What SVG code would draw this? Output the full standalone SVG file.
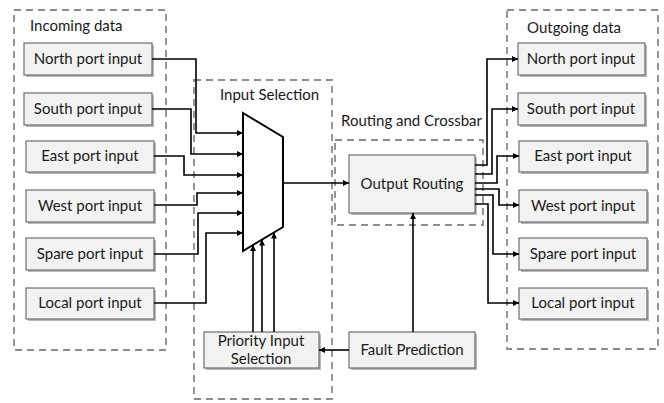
<svg xmlns="http://www.w3.org/2000/svg" width="664" height="403" viewBox="0 0 664 403">
  <style>
    .region { fill: none; stroke: #8c8c8c; stroke-width: 1.8; stroke-dasharray: 7 5; }
    .box { fill: #f2f2f2; stroke: #6e6e6e; stroke-width: 1.2; }
    .shadow { fill: #b8b8b8; }
    .lbl { font-family: Lato, "Liberation Sans", sans-serif; font-size: 15px; fill: #1a1a1a; text-anchor: middle; }
    .title { font-family: Lato, "Liberation Sans", sans-serif; font-size: 15px; fill: #1a1a1a; }
    .wire { fill: none; stroke: #000; stroke-width: 1.6; }
  </style>
  <defs>
    <marker id="arrow" viewBox="0 0 10 10" refX="10" refY="5" markerWidth="6" markerHeight="6" markerUnits="userSpaceOnUse" orient="auto">
      <path d="M0,0 L10,5 L0,10 z" fill="#000"/>
    </marker>
    <marker id="arrowL" viewBox="0 0 10 10" refX="10" refY="5" markerWidth="9" markerHeight="9" markerUnits="userSpaceOnUse" orient="auto">
      <path d="M0,1 L10,5 L0,9 z" fill="#000"/>
    </marker>
  </defs>

  <rect width="664" height="403" fill="#fff"/>

  <!-- region frames -->
  <g id="regions">
    <rect class="region" x="14" y="10" width="152" height="340"/>
    <text class="title" x="30" y="31">Incoming data</text>
    <rect class="region" x="194" y="80" width="138" height="319"/>
    <text class="title" x="220" y="100">Input Selection</text>
    <rect class="region" x="335" y="140" width="148" height="85"/>
    <text class="title" x="341" y="126">Routing and Crossbar</text>
    <rect class="region" x="507" y="10" width="151" height="339"/>
    <text class="title" x="527" y="33">Outgoing data</text>
  </g>

  <!-- incoming ports -->
  <g id="in-north"><rect class="shadow" x="26" y="45" width="128" height="32"/><rect class="box" x="24" y="43" width="128" height="32"/><text class="lbl" x="88" y="64">North port input</text></g>
  <g id="in-south"><rect class="shadow" x="26" y="95" width="128" height="32"/><rect class="box" x="24" y="93" width="128" height="32"/><text class="lbl" x="88" y="114">South port input</text></g>
  <g id="in-east"><rect class="shadow" x="28" y="143" width="128" height="31"/><rect class="box" x="26" y="141" width="128" height="31"/><text class="lbl" x="90" y="161">East port input</text></g>
  <g id="in-west"><rect class="shadow" x="28" y="192" width="128" height="32"/><rect class="box" x="26" y="190" width="128" height="32"/><text class="lbl" x="90" y="211">West port input</text></g>
  <g id="in-spare"><rect class="shadow" x="28" y="240" width="128" height="32"/><rect class="box" x="26" y="238" width="128" height="32"/><text class="lbl" x="90" y="259">Spare port input</text></g>
  <g id="in-local"><rect class="shadow" x="28" y="290" width="128" height="31"/><rect class="box" x="26" y="288" width="128" height="31"/><text class="lbl" x="90" y="308">Local port input</text></g>

  <!-- input multiplexer -->
  <g id="mux">
    <polygon points="243,113 283,137 283,227 243,251" fill="#fff" stroke="#000" stroke-width="2"/>
  </g>

  <g id="priority"><rect class="shadow" x="206" y="334" width="115" height="36"/><rect class="box" x="204" y="332" width="115" height="36"/><text class="lbl" x="261" y="346">Priority Input</text><text class="lbl" x="261" y="364">Selection</text></g>

  <g id="output-routing"><rect class="shadow" x="351" y="157" width="126" height="58"/><rect class="box" x="349" y="155" width="126" height="58"/><text class="lbl" x="412" y="189">Output Routing</text></g>

  <g id="fault"><rect class="shadow" x="351" y="334" width="126" height="36"/><rect class="box" x="349" y="332" width="126" height="36"/><text class="lbl" x="412" y="355">Fault Prediction</text></g>

  <!-- outgoing ports -->
  <g id="out-north"><rect class="shadow" x="520" y="45" width="127" height="32"/><rect class="box" x="518" y="43" width="127" height="32"/><text class="lbl" x="581" y="64">North port input</text></g>
  <g id="out-south"><rect class="shadow" x="520" y="95" width="127" height="32"/><rect class="box" x="518" y="93" width="127" height="32"/><text class="lbl" x="581" y="114">South port input</text></g>
  <g id="out-east"><rect class="shadow" x="521" y="143" width="128" height="31"/><rect class="box" x="519" y="141" width="128" height="31"/><text class="lbl" x="583" y="161">East port input</text></g>
  <g id="out-west"><rect class="shadow" x="521" y="192" width="128" height="32"/><rect class="box" x="519" y="190" width="128" height="32"/><text class="lbl" x="583" y="211">West port input</text></g>
  <g id="out-spare"><rect class="shadow" x="521" y="240" width="128" height="32"/><rect class="box" x="519" y="238" width="128" height="32"/><text class="lbl" x="583" y="259">Spare port input</text></g>
  <g id="out-local"><rect class="shadow" x="521" y="290" width="128" height="31"/><rect class="box" x="519" y="288" width="128" height="31"/><text class="lbl" x="583" y="308">Local port input</text></g>

  <!-- connectors -->
  <g id="connectors">
    <!-- incoming ports to multiplexer -->
    <path class="wire" marker-end="url(#arrow)" d="M152,59 H196 V133 H243"/>
    <path class="wire" marker-end="url(#arrow)" d="M152,109 H191 V154 H243"/>
    <path class="wire" marker-end="url(#arrow)" d="M154,156 H184 V175 H243"/>
    <path class="wire" marker-end="url(#arrow)" d="M154,205 H197 V193 H243"/>
    <path class="wire" marker-end="url(#arrow)" d="M154,254 H198 V213 H243"/>
    <path class="wire" marker-end="url(#arrow)" d="M154,303 H206 V233 H243"/>
    <!-- multiplexer select lines -->
    <path class="wire" marker-end="url(#arrow)" d="M253,332 V245"/>
    <path class="wire" marker-end="url(#arrow)" d="M262,332 V239.5"/>
    <path class="wire" marker-end="url(#arrow)" d="M274,332 V232.5"/>
    <!-- multiplexer to output routing -->
    <path class="wire" marker-end="url(#arrow)" d="M283,183 H349"/>
    <!-- fault prediction -->
    <path class="wire" marker-end="url(#arrow)" d="M413,332 V213"/>
    <path class="wire" marker-end="url(#arrow)" d="M349,350 H319"/>
    <!-- output routing to outgoing ports -->
    <path class="wire" marker-end="url(#arrow)" d="M475,165 H487 V59 H518"/>
    <path class="wire" marker-end="url(#arrow)" d="M475,174 H492 V109 H518"/>
    <path class="wire" marker-end="url(#arrow)" d="M475,183 H497 V156 H519"/>
    <path class="wire" marker-end="url(#arrow)" d="M475,189 H499 V205 H519"/>
    <path class="wire" marker-end="url(#arrow)" d="M475,195 H493 V254 H519"/>
    <path class="wire" marker-end="url(#arrow)" d="M475,204 H488 V303 H519"/>
  </g>
</svg>
